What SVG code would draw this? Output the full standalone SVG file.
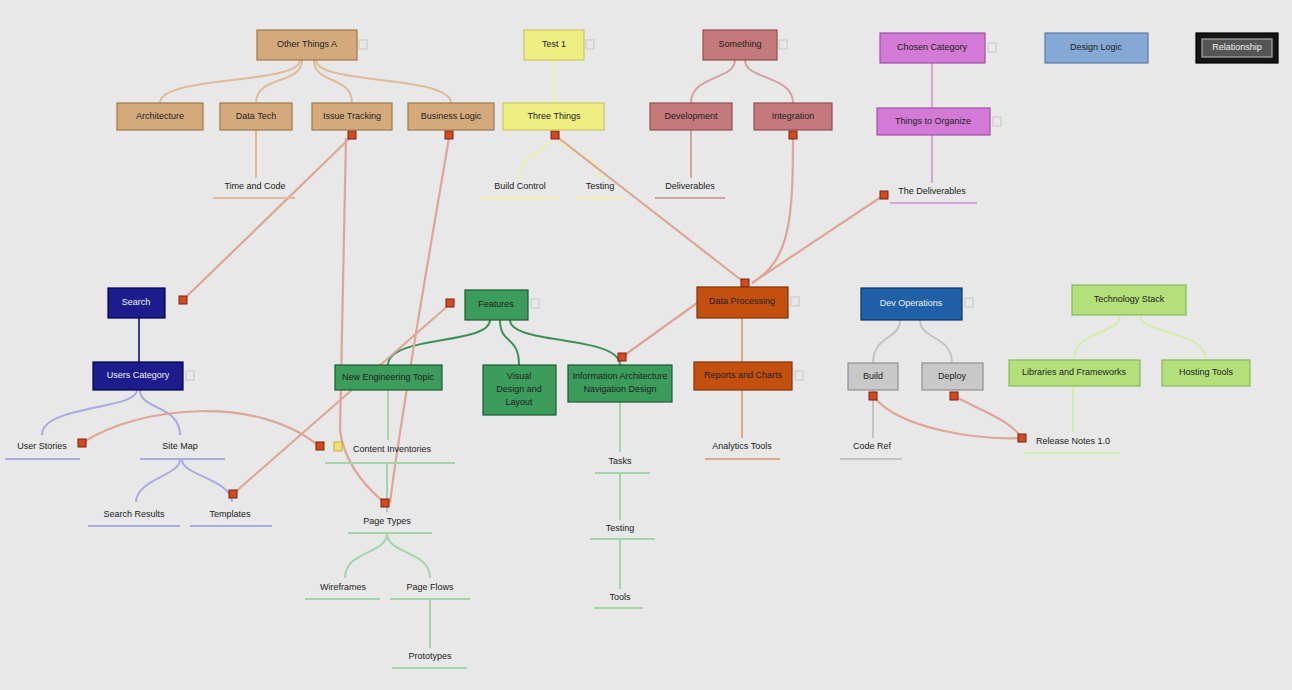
<svg xmlns="http://www.w3.org/2000/svg" width="1292" height="690" viewBox="0 0 1292 690">
<style>
text{font-family:"Liberation Sans",Arial,sans-serif;font-size:9px;fill:#222;text-anchor:middle;dominant-baseline:middle}
.w{fill:#f0f0f0}
.n rect{stroke-width:1.2}
.tan{fill:#d4aa7d;stroke:#a07848}
.yel{fill:#eeee82;stroke:#c8c860}
.rose{fill:#c47a7a;stroke:#905050}
.pur{fill:#d27ad6;stroke:#a050a8}
.steel{fill:#86a8d4;stroke:#5a7aa8}
.blk{fill:#151515;stroke:#000}
.navy{fill:#1c1c8c;stroke:#000050}
.grn{fill:#3c9c5c;stroke:#1c5c30}
.org{fill:#c4500f;stroke:#803008}
.blu{fill:#2060a8;stroke:#103060}
.gry{fill:#c8c8c8;stroke:#909090}
.lime{fill:#b4e07c;stroke:#88b858}
.t{fill:none;stroke-width:2}
.ctan{stroke:#ddbc98}.cyel{stroke:#f0f0a6}.crose{stroke:#d4a0a0}.cpur{stroke:#dca0dc}.cnav{stroke:#aaaae2}.cnav0{stroke:#3a3a9c}.cgrn{stroke:#a4d4ac}.cgrn0{stroke:#3f8f58}.corg{stroke:#e2a888}.cgry{stroke:#c4c4c4}.clime{stroke:#d2eeac}
.u{stroke-width:2}
.rel{fill:none;stroke:#dda698;stroke-width:2.2}
.m{fill:#d44a1e;stroke:#7a2010;stroke-width:1}
.h{fill:none;stroke:#cccccc;stroke-width:1}
</style>
<rect width="1292" height="690" fill="#e8e8e8"/>

<g id="connectors">
<path class="t ctan" d="M300 60 C300 85 160 75 160 103"/>
<path class="t ctan" d="M302 60 C302 85 256 75 256 103"/>
<path class="t ctan" d="M314 60 C314 85 352 75 352 103"/>
<path class="t ctan" d="M316 60 C316 85 451 75 451 103"/>
<path class="t ctan" d="M256 130 L256 178"/>
<path class="t cyel" d="M554 60 L554 103"/>
<path class="t cyel" d="M553 130 C553 155 520 150 520 178"/>
<path class="t cyel" d="M556 130 C556 155 600 150 600 178"/>
<path class="t crose" d="M735 60 C735 80 691 75 691 103"/>
<path class="t crose" d="M745 60 C745 80 793 75 793 103"/>
<path class="t crose" d="M691 130 L691 178"/>
<path class="t cpur" d="M932 63 L932 108"/>
<path class="t cpur" d="M932 135 L932 183"/>
<path class="t cnav0" d="M139 318 L139 362"/>
<path class="t cnav" d="M137 390 C137 410 42 405 42 435"/>
<path class="t cnav" d="M140 390 C140 410 180 405 180 435"/>
<path class="t cnav" d="M180 460 C180 475 136 480 136 502"/>
<path class="t cnav" d="M182 460 C182 475 232 480 232 502"/>
<path class="t cgrn0" d="M490 320 C490 345 388 335 388 365"/>
<path class="t cgrn0" d="M500 320 C500 345 519 335 519 365"/>
<path class="t cgrn0" d="M510 320 C510 345 620 335 620 365"/>
<path class="t cgrn" d="M388 390 L388 440"/>
<path class="t cgrn" d="M387 463 L387 512"/>
<path class="t cgrn" d="M387 533 C387 555 345 550 345 578"/>
<path class="t cgrn" d="M387 533 C387 555 430 550 430 578"/>
<path class="t cgrn" d="M430 599 L430 648"/>
<path class="t cgrn" d="M620 402 L620 452"/>
<path class="t cgrn" d="M620 473 L620 520"/>
<path class="t cgrn" d="M620 539 L620 589"/>
<path class="t corg" d="M742 318 L742 362"/>
<path class="t corg" d="M742 390 L742 438"/>
<path class="t cgry" d="M900 320 C900 340 873 335 873 363"/>
<path class="t cgry" d="M920 320 C920 340 952 335 952 363"/>
<path class="t cgry" d="M873 390 L873 438"/>
<path class="t clime" d="M1120 315 C1120 335 1074 330 1074 360"/>
<path class="t clime" d="M1140 315 C1140 335 1206 330 1206 360"/>
<path class="t clime" d="M1073 386 L1073 432"/>
<path class="rel" d="M352 136 L183 300"/>
<path class="rel" d="M346 138 L340 430 Q345 470 385 503"/>
<path class="rel" d="M449 138 C430 250 400 420 390 503"/>
<path class="rel" d="M556 136 L745 283"/>
<path class="rel" d="M793 136 C793 220 790 260 752 283"/>
<path class="rel" d="M752 283 L884 195"/>
<path class="rel" d="M697 303 L622 357"/>
<path class="rel" d="M450 304 L233 494"/>
<path class="rel" d="M82 443 C140 405 260 395 320 447"/>
<path class="rel" d="M873 396 C900 430 980 440 1022 438"/>
<path class="rel" d="M954 396 C980 410 1010 420 1022 438"/>
<rect class="m" x="348" y="131" width="8" height="8"/>
<rect class="m" x="445" y="131" width="8" height="8"/>
<rect class="m" x="551" y="131" width="8" height="8"/>
<rect class="m" x="789" y="131" width="8" height="8"/>
<rect class="m" x="179" y="296" width="8" height="8"/>
<rect class="m" x="741" y="279" width="8" height="8"/>
<rect class="m" x="880" y="191" width="8" height="8"/>
<rect class="m" x="618" y="353" width="8" height="8"/>
<rect class="m" x="446" y="299" width="8" height="8"/>
<rect class="m" x="229" y="490" width="8" height="8"/>
<rect class="m" x="78" y="439" width="8" height="8"/>
<rect class="m" x="316" y="442" width="8" height="8"/>
<rect class="m" x="381" y="499" width="8" height="8"/>
<rect class="m" x="869" y="392" width="8" height="8"/>
<rect class="m" x="950" y="392" width="8" height="8"/>
<rect class="m" x="1018" y="434" width="8" height="8"/>
</g>

<g id="tan-root" class="n"><rect class="tan" x="257" y="30" width="100" height="30"/><text x="307" y="45">Other Things A</text><rect class="h" x="359" y="40" width="8" height="9"/></g>
<g id="tan-1" class="n"><rect class="tan" x="117" y="103" width="86" height="27"/><text x="160" y="117">Architecture</text></g>
<g id="tan-2" class="n"><rect class="tan" x="220" y="103" width="72" height="27"/><text x="256" y="117">Data Tech</text></g>
<g id="tan-3" class="n"><rect class="tan" x="312" y="103" width="80" height="27"/><text x="352" y="117">Issue Tracking</text></g>
<g id="tan-4" class="n"><rect class="tan" x="408" y="103" width="86" height="27"/><text x="451" y="117">Business Logic</text></g>
<g id="tan-leaf"><text x="255" y="187" font-size="8">Time and Code</text><line class="u ctan" x1="213" y1="198" x2="295" y2="198"/></g>

<g id="yel-root" class="n"><rect class="yel" x="524" y="30" width="60" height="30"/><text x="554" y="45">Test 1</text><rect class="h" x="586" y="40" width="8" height="9"/></g>
<g id="yel-1" class="n"><rect class="yel" x="503" y="103" width="101" height="27"/><text x="554" y="117">Three Things</text></g>
<g id="yel-leaf1"><text x="520" y="187" font-size="8">Build Control</text><line class="u cyel" x1="480" y1="198" x2="560" y2="198"/></g>
<g id="yel-leaf2"><text x="600" y="187" font-size="8">Testing</text><line class="u cyel" x1="577" y1="198" x2="625" y2="198"/></g>

<g id="rose-root" class="n"><rect class="rose" x="703" y="30" width="74" height="30"/><text x="740" y="45">Something</text><rect class="h" x="779" y="40" width="8" height="9"/></g>
<g id="rose-1" class="n"><rect class="rose" x="650" y="103" width="82" height="27"/><text x="691" y="117">Development</text></g>
<g id="rose-2" class="n"><rect class="rose" x="754" y="103" width="78" height="27"/><text x="793" y="117">Integration</text></g>
<g id="rose-leaf"><text x="690" y="187" font-size="8">Deliverables</text><line class="u crose" x1="655" y1="198" x2="725" y2="198"/></g>

<g id="pur-root" class="n"><rect class="pur" x="880" y="33" width="105" height="30"/><text x="932" y="48">Chosen Category</text><rect class="h" x="988" y="43" width="8" height="9"/></g>
<g id="pur-1" class="n"><rect class="pur" x="877" y="108" width="113" height="27"/><text x="933" y="122">Things to Organize</text><rect class="h" x="993" y="117" width="8" height="9"/></g>
<g id="pur-leaf"><text x="932" y="192" font-size="8">The Deliverables</text><line class="u cpur" x1="890" y1="203" x2="977" y2="203"/></g>

<g id="steel" class="n"><rect class="steel" x="1045" y="33" width="103" height="30"/><text x="1096" y="48">Design Logic</text></g>
<g id="black" class="n"><rect class="blk" x="1196" y="33" width="82" height="30"/><rect x="1202" y="39" width="70" height="18" fill="#555" stroke="#aaa" stroke-width="1"/><text x="1237" y="48" class="w">Relationship</text></g>

<g id="navy-root" class="n"><rect class="navy" x="108" y="288" width="57" height="30"/><text x="136" y="303" class="w">Search</text></g>
<g id="navy-1" class="n"><rect class="navy" x="93" y="362" width="90" height="28"/><text x="138" y="376" class="w">Users Category</text><rect class="h" x="186" y="371" width="8" height="9"/></g>
<g id="navy-leaf1"><text x="42" y="447" font-size="8">User Stories</text><line class="u cnav" x1="5" y1="459" x2="80" y2="459"/></g>
<g id="navy-leaf2"><text x="180" y="447" font-size="8">Site Map</text><line class="u cnav" x1="140" y1="459" x2="225" y2="459"/></g>
<g id="navy-leaf3"><text x="134" y="515" font-size="8">Search Results</text><line class="u cnav" x1="88" y1="526" x2="180" y2="526"/></g>
<g id="navy-leaf4"><text x="230" y="515" font-size="8">Templates</text><line class="u cnav" x1="190" y1="526" x2="272" y2="526"/></g>

<g id="grn-root" class="n"><rect class="grn" x="465" y="290" width="63" height="30"/><text x="496" y="305">Features</text><rect class="h" x="531" y="299" width="8" height="9"/></g>
<g id="grn-1" class="n"><rect class="grn" x="335" y="365" width="107" height="25"/><text x="388" y="378">New Engineering Topic</text></g>
<g id="grn-2" class="n"><rect class="grn" x="483" y="365" width="73" height="50"/><text x="519" y="377">Visual</text><text x="519" y="390">Design and</text><text x="519" y="403">Layout</text></g>
<g id="grn-3" class="n"><rect class="grn" x="568" y="365" width="104" height="37"/><text x="620" y="377">Information Architecture</text><text x="620" y="390">Navigation Design</text></g>
<g id="grn-leaf1"><text x="392" y="450" font-size="8">Content Inventories</text><line class="u cgrn" x1="325" y1="463" x2="455" y2="463"/><rect x="334" y="442" width="8" height="9" fill="#f0e070" stroke="#c0b040"/></g>
<g id="grn-leaf2"><text x="387" y="522" font-size="8">Page Types</text><line class="u cgrn" x1="348" y1="533" x2="432" y2="533"/></g>
<g id="grn-leaf3"><text x="343" y="588" font-size="8">Wireframes</text><line class="u cgrn" x1="305" y1="599" x2="380" y2="599"/></g>
<g id="grn-leaf4"><text x="430" y="588" font-size="8">Page Flows</text><line class="u cgrn" x1="390" y1="599" x2="470" y2="599"/></g>
<g id="grn-leaf5"><text x="430" y="657" font-size="8">Prototypes</text><line class="u cgrn" x1="392" y1="668" x2="467" y2="668"/></g>
<g id="grn-leaf6"><text x="620" y="462" font-size="8">Tasks</text><line class="u cgrn" x1="595" y1="473" x2="650" y2="473"/></g>
<g id="grn-leaf7"><text x="620" y="529" font-size="8">Testing</text><line class="u cgrn" x1="590" y1="539" x2="655" y2="539"/></g>
<g id="grn-leaf8"><text x="620" y="598" font-size="8">Tools</text><line class="u cgrn" x1="594" y1="608" x2="643" y2="608"/></g>

<g id="org-root" class="n"><rect class="org" x="697" y="287" width="91" height="31"/><text x="742" y="302">Data Processing</text><rect class="h" x="791" y="297" width="8" height="9"/></g>
<g id="org-1" class="n"><rect class="org" x="694" y="362" width="98" height="28"/><text x="743" y="376">Reports and Charts</text><rect class="h" x="795" y="371" width="8" height="9"/></g>
<g id="org-leaf"><text x="742" y="447" font-size="8">Analytics Tools</text><line class="u corg" x1="705" y1="459" x2="780" y2="459"/></g>

<g id="blu-root" class="n"><rect class="blu" x="861" y="288" width="101" height="32"/><text x="911" y="304" class="w">Dev Operations</text><rect class="h" x="965" y="298" width="8" height="9"/></g>
<g id="gry-1" class="n"><rect class="gry" x="848" y="363" width="50" height="27"/><text x="873" y="377">Build</text></g>
<g id="gry-2" class="n"><rect class="gry" x="922" y="363" width="61" height="27"/><text x="952" y="377">Deploy</text></g>
<g id="gry-leaf"><text x="872" y="447" font-size="8">Code Ref</text><line class="u cgry" x1="840" y1="459" x2="902" y2="459"/></g>

<g id="lime-root" class="n"><rect class="lime" x="1072" y="285" width="114" height="30"/><text x="1129" y="300">Technology Stack</text></g>
<g id="lime-1" class="n"><rect class="lime" x="1009" y="360" width="131" height="26"/><text x="1074" y="373">Libraries and Frameworks</text></g>
<g id="lime-2" class="n"><rect class="lime" x="1162" y="360" width="88" height="26"/><text x="1206" y="373">Hosting Tools</text></g>
<g id="lime-leaf"><text x="1073" y="442" font-size="8">Release Notes 1.0</text><line class="u clime" x1="1025" y1="453" x2="1120" y2="453"/></g>
</svg>
